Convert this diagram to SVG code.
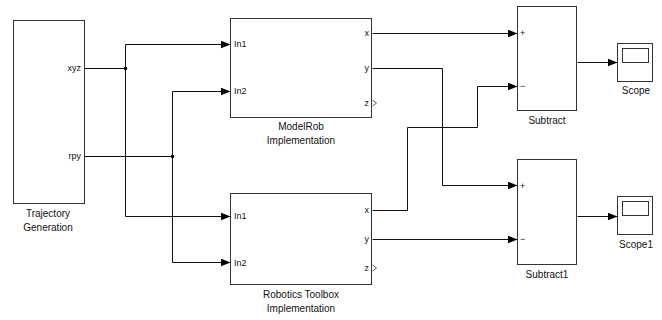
<svg xmlns="http://www.w3.org/2000/svg" width="662" height="320" viewBox="0 0 662 320">
<style>
.blk{fill:#fff;stroke:#333;stroke-width:1}
.ln{fill:none;stroke:#111;stroke-width:1}
.pl{font-family:"Liberation Sans",Arial,sans-serif;font-size:9px;fill:#111}
.pr{font-family:"Liberation Sans",Arial,sans-serif;font-size:9px;fill:#111;text-anchor:end}
.lb{font-family:"Liberation Sans",Arial,sans-serif;font-size:10px;fill:#111;text-anchor:middle}
</style>
<defs>
<marker id="ah" markerUnits="userSpaceOnUse" markerWidth="11" markerHeight="9" refX="10" refY="4" orient="auto">
<path d="M0,0 L10,4 L0,8 z" fill="#000"/>
</marker>
</defs>
<rect width="662" height="320" fill="#fff"/>
<g id="connectors">
<path class="ln" d="M84.5,68.5 H125.5"/>
<path class="ln" d="M125.5,44.5 V216.5"/>
<path class="ln" d="M125.5,44.5 H230.5" marker-end="url(#ah)"/>
<path class="ln" d="M125.5,216.5 H230.5" marker-end="url(#ah)"/>
<path class="ln" d="M84.5,156.5 H172.5"/>
<path class="ln" d="M172.5,91.5 V262.5"/>
<path class="ln" d="M172.5,91.5 H230.5" marker-end="url(#ah)"/>
<path class="ln" d="M172.5,262.5 H230.5" marker-end="url(#ah)"/>
<circle cx="125.5" cy="68.5" r="1.8" fill="#000"/>
<circle cx="172.5" cy="156.5" r="1.8" fill="#000"/>
<path class="ln" d="M372.5,33.5 H517.5" marker-end="url(#ah)"/>
<path class="ln" d="M372.5,68.5 H442.5 V185.5 H517.5" marker-end="url(#ah)"/>
<path class="ln" d="M372.5,210.5 H407.5 V127.5 H477.5 V86.5 H517.5" marker-end="url(#ah)"/>
<path class="ln" d="M372.5,239.5 H517.5" marker-end="url(#ah)"/>
<path class="ln" d="M577.5,62.5 H617.5" marker-end="url(#ah)"/>
<path class="ln" d="M577.5,216.5 H617.5" marker-end="url(#ah)"/>
</g>
<g id="traj">
<rect class="blk" x="13.5" y="20.5" width="71" height="183"/>
<text class="pr" x="81" y="71">xyz</text>
<text class="pr" x="81" y="159">rpy</text>
<text class="lb" x="48" y="217">Trajectory</text>
<text class="lb" x="48" y="231">Generation</text>
</g>
<g id="modelrob">
<rect class="blk" x="230.5" y="18.5" width="141" height="99"/>
<text class="pl" x="234" y="47">In1</text>
<text class="pl" x="234" y="94">In2</text>
<text class="pr" x="369" y="36">x</text>
<text class="pr" x="369" y="71">y</text>
<text class="pr" x="369" y="106">z</text>
<path d="M372.5,100 L376.5,103 L372.5,106" fill="none" stroke="#333" stroke-width="0.8"/>
<text class="lb" x="301" y="130">ModelRob</text>
<text class="lb" x="301" y="144">Implementation</text>
</g>
<g id="robotics">
<rect class="blk" x="230.5" y="193.5" width="141" height="91"/>
<text class="pl" x="234" y="219">In1</text>
<text class="pl" x="234" y="266">In2</text>
<text class="pr" x="369" y="213">x</text>
<text class="pr" x="369" y="242">y</text>
<text class="pr" x="369" y="271">z</text>
<path d="M372.5,265 L376.5,268 L372.5,271" fill="none" stroke="#333" stroke-width="0.8"/>
<text class="lb" x="301" y="298">Robotics Toolbox</text>
<text class="lb" x="301" y="312">Implementation</text>
</g>
<g id="subtract">
<rect class="blk" x="517.5" y="6.5" width="59" height="104"/>
<text class="pl" x="520" y="36">+</text>
<text class="pl" x="520" y="89">−</text>
<text class="lb" x="547" y="124">Subtract</text>
</g>
<g id="subtract1">
<rect class="blk" x="517.5" y="159.5" width="59" height="105"/>
<text class="pl" x="520" y="189">+</text>
<text class="pl" x="520" y="242">−</text>
<text class="lb" x="547" y="278">Subtract1</text>
</g>
<g id="scope">
<rect class="blk" x="617.5" y="43.5" width="35" height="38"/>
<rect class="blk" x="622.5" y="48.5" width="26" height="14"/>
<text class="lb" x="636" y="94">Scope</text>
</g>
<g id="scope1">
<rect class="blk" x="617.5" y="196.5" width="35" height="38"/>
<rect class="blk" x="622.5" y="201.5" width="26" height="14"/>
<text class="lb" x="636" y="248">Scope1</text>
</g>
</svg>
